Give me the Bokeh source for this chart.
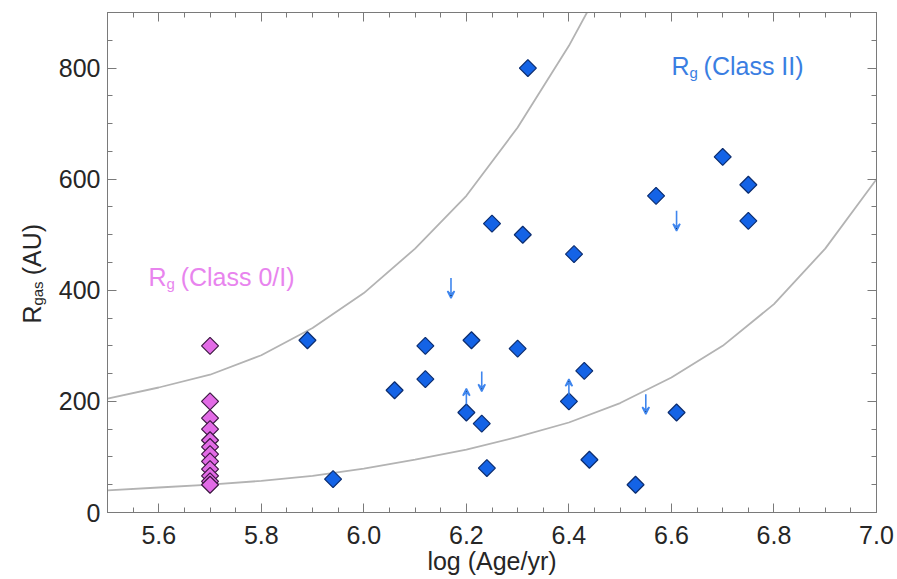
import numpy as np
from bokeh.plotting import figure
from bokeh.layouts import row
from bokeh.models import (Label, Arrow, VeeHead, ColumnDataSource, LinearAxis,
                          Range1d, SingleIntervalTicker, PrintfTickFormatter)
from bokeh.embed import file_html
from bokeh.resources import INLINE

# ---- data ----
# Class II discs: log(Age/yr) and R_gas (AU)
c2_age = [6.32, 5.89, 5.94, 6.06, 6.12, 6.12, 6.25, 6.31, 6.21, 6.30, 6.20, 6.23,
          6.24, 6.41, 6.43, 6.40, 6.44, 6.53, 6.57, 6.70, 6.75, 6.75, 6.61]
c2_r = [800, 310, 60, 220, 300, 240, 520, 500, 310, 295, 180, 160,
        80, 465, 255, 200, 95, 50, 570, 640, 590, 525, 180]
# Class 0/I discs
c0_age = [5.7, 5.7, 5.7, 5.7, 5.7, 5.7, 5.7, 5.7, 5.7, 5.7, 5.7, 5.7]
c0_r = [300, 200, 170, 150, 130, 118, 105, 92, 78, 66, 56, 50]
# upper limits (down arrows) and lower limits (up arrows), arrow centres
down_age = [6.17, 6.23, 6.55, 6.61]
down_r = [404, 236, 195, 525]
up_age = [6.20, 6.40]
up_r = [209, 226]
# model curves
curve_age = [5.5, 5.6, 5.7, 5.8, 5.9, 6.0, 6.1, 6.2, 6.3, 6.4, 6.5, 6.6, 6.7, 6.8, 6.9, 7.0]
curve_low = [40, 45, 50, 57, 66, 79, 95, 113, 136, 162, 197, 243, 300, 375, 475, 600]
curve_high_age = [5.5, 5.6, 5.7, 5.8, 5.9, 6.0, 6.1, 6.2, 6.3, 6.4, 6.5]
curve_high = [205, 225, 248, 283, 332, 395, 475, 570, 693, 840, 1010]

FONT = "Liberation Sans"
TXT = "#262626"
AX = "#7a7a7a"
FS = 25      # main font size (px)
SFS = 15     # subscript font size (px)
LEFT_W = 50  # width of the strip that carries the y-axis title

yr = Range1d(0, 900)
p = figure(width=897 - LEFT_W, height=579, x_range=Range1d(5.5, 7.0), y_range=yr,
           output_backend="svg", toolbar_location=None,
           min_border_left=107 - LEFT_W, min_border_right=21, min_border_top=12, min_border_bottom=67)
p.xgrid.visible = False
p.ygrid.visible = False
p.outline_line_color = AX
p.background_fill_color = "white"
p.border_fill_color = "white"

p.xaxis.ticker = SingleIntervalTicker(interval=0.2, num_minor_ticks=4)
p.yaxis.ticker = SingleIntervalTicker(interval=200, num_minor_ticks=4)
p.xaxis.formatter = PrintfTickFormatter(format="%.1f")

def style(ax, labels=True):
    ax.axis_line_color = AX
    ax.major_tick_line_color = AX
    ax.minor_tick_line_color = AX
    ax.major_tick_in = 9
    ax.major_tick_out = 0
    ax.minor_tick_in = 5
    ax.minor_tick_out = 0
    ax.major_label_text_font = FONT
    ax.axis_label_text_font = FONT
    ax.axis_label_text_font_style = "normal"
    ax.axis_label_text_color = TXT
    ax.axis_label_text_font_size = f"{FS}px"
    if labels:
        ax.major_label_text_color = TXT
        ax.major_label_text_font_size = f"{FS}px"
    else:
        ax.major_label_text_color = None
        ax.major_label_text_font_size = "1px"
        ax.major_label_standoff = 0

style(p.xaxis[0])
style(p.yaxis[0])
p.xaxis.major_label_standoff = 13
p.xaxis.axis_label = "log (Age/yr)"
p.xaxis.axis_label_standoff = 0
p.yaxis.major_label_standoff = 7

top = LinearAxis(ticker=SingleIntervalTicker(interval=0.2, num_minor_ticks=4))
right = LinearAxis(ticker=SingleIntervalTicker(interval=200, num_minor_ticks=4))
style(top, False)
style(right, False)
p.add_layout(top, "above")
p.add_layout(right, "right")

# curves
p.line(curve_age, curve_low, line_color="#b3b3b3", line_width=1.8)
p.line(curve_high_age, curve_high, line_color="#b3b3b3", line_width=1.8)

# arrows (limits)
HALF = 18
ARROW_C = "#3f86ee"
down_src = ColumnDataSource(dict(x=down_age, y0=[v + HALF for v in down_r], y1=[v - HALF for v in down_r]))
up_src = ColumnDataSource(dict(x=up_age, y0=[v - 14 for v in up_r], y1=[v + 14 for v in up_r]))
for src in (down_src, up_src):
    p.add_layout(Arrow(end=VeeHead(size=7, line_color=ARROW_C, line_width=1.6),
                       x_start="x", y_start="y0", x_end="x", y_end="y1", source=src,
                       line_color=ARROW_C, line_width=1.6))

# markers
p.scatter(c0_age, c0_r, marker="square", size=12, angle=np.pi / 4,
          fill_color="#e26be6", line_color="#3b1840", line_width=1.2)
p.scatter(c2_age, c2_r, marker="square", size=12, angle=np.pi / 4,
          fill_color="#1463e6", line_color="#0b2c6e", line_width=1.2)

# text helpers (subscripts built from separate labels)
def lab(fig, **kw):
    base = dict(text_font=FONT, text_baseline="alphabetic")
    base.update(kw)
    fig.add_layout(Label(**base))

def sublabel(x, y, main, sub, rest, color):
    main_w = 0.722 * FS
    sub_w = 0.54 * SFS * len(sub)
    lab(p, x=x, y=y, text=main, text_font_size=f"{FS}px", text_color=color)
    lab(p, x=x, y=y, x_offset=main_w, y_offset=-7, text=sub, text_font_size=f"{SFS}px", text_color=color)
    lab(p, x=x, y=y, x_offset=main_w + sub_w + 6, text=rest, text_font_size=f"{FS}px", text_color=color)

sublabel(5.58, 424, "R", "g", "(Class 0/I)", "#e884ee")
sublabel(6.60, 804, "R", "g", "(Class II)", "#3a7ee2")

# narrow strip at the left carrying the rotated y-axis title with its subscript;
# it shares the y range so its frame lines up with the main frame
side = figure(width=LEFT_W, height=579, x_range=Range1d(0, LEFT_W), y_range=yr,
              output_backend="svg", toolbar_location=None, min_border=0)
side.axis.visible = False
side.grid.visible = False
side.outline_line_color = None
side.background_fill_color = "white"
side.border_fill_color = "white"

ang = np.pi / 2
YB = 31      # baseline position in the strip (px)
YS = 340     # start of the title, in R_gas units
main_w = 0.722 * FS
sub_w = 0.54 * SFS * 3
lab(side, x=YB, y=YS, text="R", text_font_size=f"{FS}px", text_color=TXT, angle=ang)
lab(side, x=YB, y=YS, x_offset=6, y_offset=main_w, text="gas", text_font_size=f"{SFS}px",
    text_color=TXT, angle=ang)
lab(side, x=YB, y=YS, y_offset=main_w + sub_w + 6, text="(AU)", text_font_size=f"{FS}px",
    text_color=TXT, angle=ang)

layout = row(side, p, spacing=0)
open("out.html", "w").write(file_html(layout, INLINE))
